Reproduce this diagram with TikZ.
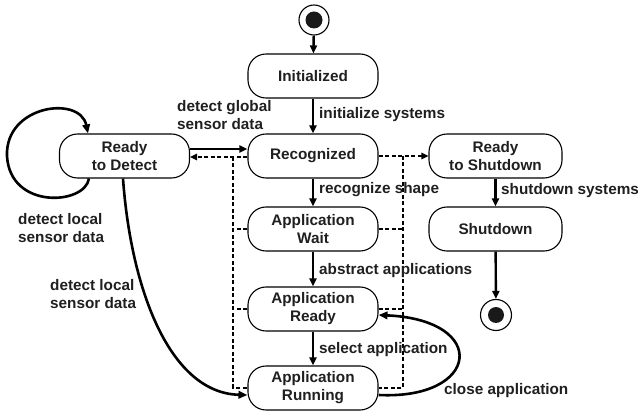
\documentclass[tikz,border=0pt]{standalone}
\usepackage{fontspec}
\setmainfont{Liberation Sans}
\usetikzlibrary{arrows.meta,calc}
\begin{document}
\begin{tikzpicture}[x=1pt,y=-1pt,
  every node/.style={font=\fontsize{15.3}{18}\selectfont\bfseries, text=black!88},
  statebox/.style={draw, line width=1.1pt, rounded corners=18pt, minimum width=130pt, minimum height=44pt, align=center, inner sep=0pt},
  tr/.style={line width=2.4pt, -{Triangle[length=8pt,width=7pt]}},
  loopline/.style={line width=2.6pt, -{Triangle[length=9pt,width=7.5pt]}},
  dsh/.style={line width=1.5pt, dash pattern=on 4pt off 2.5pt},
  dsharr/.style={dsh, -{Triangle[length=7pt,width=6.5pt]}},
  lbl/.style={anchor=west, align=left, inner sep=0pt}
]
\useasboundingbox (0,0) rectangle (638,414);

% initial and final states
\node[circle, draw, line width=1.1pt, minimum size=30pt, inner sep=0pt] (start) at (314,20) {};
\fill[black!90] (start.center) circle (8.5pt);
\node[circle, draw, line width=1.1pt, minimum size=31pt, inner sep=0pt] (final) at (496,315) {};
\fill[black!90] (final.center) circle (8pt);

% states
\node[statebox] (init) at (313,76) {Initialized};
\node[statebox] (rec) at (313,156) {Recognized};
\node[statebox] (wait) at (313,229) {Application\\Wait};
\node[statebox] (ready) at (313,309) {Application\\Ready};
\node[statebox] (run) at (313,388) {Application\\Running};
\node[statebox] (rtd) at (124.5,156) {Ready\\to Detect};
\node[statebox, minimum width=133pt] (rts) at (495.5,156) {Ready\\to Shutdown};
\node[statebox, minimum width=133pt] (shut) at (495.5,229) {Shutdown};

% solid transitions
\draw[tr] (start) -- (init);
\draw[tr] (init) -- (rec);
\draw[tr] (rec) -- (wait);
\draw[tr] (wait) -- (ready);
\draw[tr] (ready) -- (run);
\draw[tr] (rts) -- (shut);
\draw[tr] (shut) -- (final);
\draw[tr] ([yshift=7pt]rtd.east) -- ([yshift=7pt]rec.west);

% dashed transitions
\draw[dsharr] ([yshift=-1pt]rec.west) -- ([yshift=-1pt]rtd.east);
\draw[dsharr] (rec.east) -- (rts.west);
\coordinate (Ltop) at (233,157);
\coordinate (Rtop) at (403,156);
\draw[dsh] (Ltop) |- (run.west);
\draw[dsh] (Rtop) |- (run.east);
\draw[dsh] (wait.west) -- (wait.west -| Ltop);
\draw[dsh] (ready.west) -- (ready.west -| Ltop);
\draw[dsh] (wait.east) -- (wait.east -| Rtop);
\draw[dsh] (ready.east) -- (ready.east -| Rtop);

% loops and curves
\draw[loopline] ([xshift=-35.5pt]rtd.south) .. controls (85,205) and (10,210) .. (7,156)
   .. controls (5,105) and (80,95) .. ([xshift=-36.5pt]rtd.north);
\draw[loopline] ([xshift=-1.5pt]rtd.south) .. controls (131,290) and (170,393) .. ([yshift=-7pt]run.west);
\draw[loopline] ([yshift=-7pt]run.east) .. controls (480,400) and (490,320) .. ([yshift=-6pt]ready.east);

% labels
\node[lbl] at (319,115) {initialize systems};
\node[lbl] at (319,190) {recognize shape};
\node[lbl] at (319,271) {abstract applications};
\node[lbl] at (319,350) {select application};
\node[lbl] at (501,191) {shutdown systems};
\node[lbl] at (444,391) {close application};
\node[lbl] at (177,115.5) {detect global\\sensor data};
\node[lbl] at (18,228) {detect local\\sensor data};
\node[lbl] at (50,294) {detect local\\sensor data};
\end{tikzpicture}
\end{document}
